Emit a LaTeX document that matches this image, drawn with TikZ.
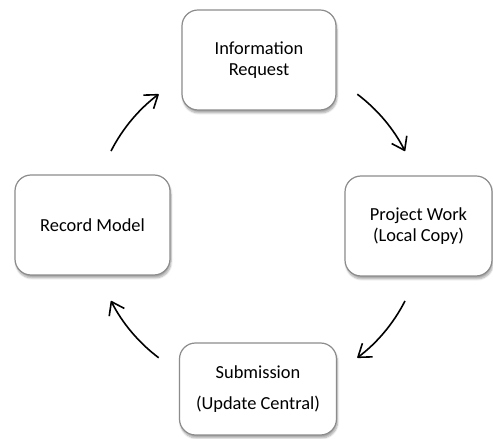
\documentclass[tikz,border=0pt]{standalone}
\usepackage{fontspec}
\setmainfont{Carlito}
\usetikzlibrary{calc,arrows.meta,shadows.blur}
\def\hubr{165}
\def\cyclearc(#1:#2){\draw[flow] ($(hub)+(#1:\hubr)$) arc (#1:#2:\hubr);}

\begin{document}
\begin{tikzpicture}[x=1pt, y=1pt,
		stepbox/.style={draw=black!45, line width=1.2pt, rounded corners=16pt, fill=white,
			blur shadow={shadow xshift=1pt, shadow yshift=-3pt, shadow blur steps=6, shadow opacity=35},
			align=center, inner sep=0pt, font=\fontsize{18.4}{21}\selectfont},
		flow/.style={line width=1.6pt, -{Straight Barb[length=12pt, width=17pt, line join=round]}}]
		%%%%% START %%%%%
		
		\useasboundingbox (0, 0) rectangle (493, 439);
		
		\coordinate (hub) at (258, 213);
		
		\node[stepbox, minimum width=154pt, minimum height=100pt] (request) at (259, 379) {Information\\Request};
		\node[stepbox, minimum width=147pt, minimum height=100pt] (work) at (418.5, 213) {Project Work\\(Local Copy)};
		\node[stepbox, minimum width=157pt, minimum height=92pt] (submit) at (258, 50) {Submission\\[10pt](Update Central)};
		\node[stepbox, minimum width=155pt, minimum height=100pt] (record) at (92.5, 214) {Record Model};
		
		\cyclearc(153:127)
		\cyclearc(53:27)
		\cyclearc(-27:-53)
		\cyclearc(233:207)
		
		%%%%% END %%%%%
	\end{tikzpicture}
\end{document}
